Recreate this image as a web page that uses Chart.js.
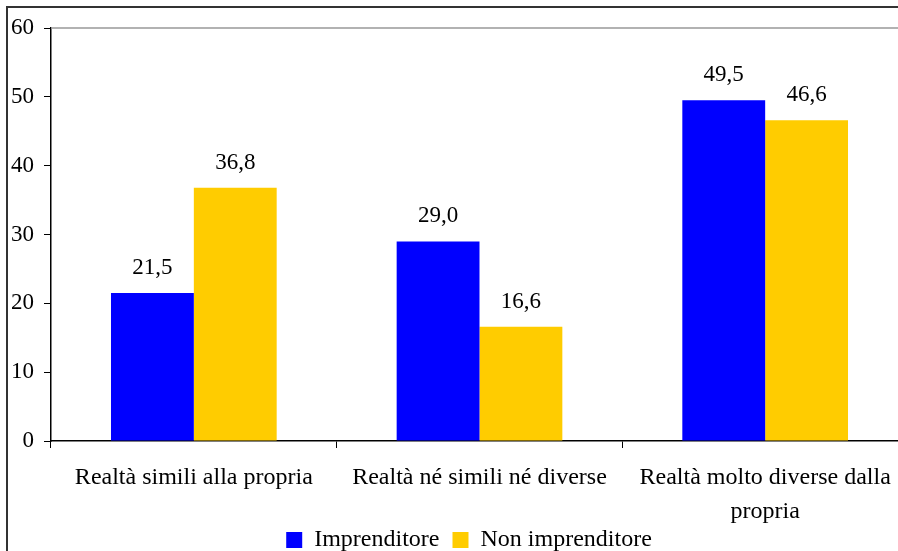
<!DOCTYPE html>
<html>
<head>
<meta charset="utf-8">
<script src="https://cdn.jsdelivr.net/npm/chart.js@4/dist/chart.umd.min.js"></script>
<style>
  html, body { margin: 0; padding: 0; background: #fff; overflow: hidden; }
  #wrap { position: relative; width: 898px; height: 551px; overflow: hidden; }
  #frame { position: absolute; left: 6px; top: 6px; width: 2000px; height: 2000px;
           border-left: 2px solid #333; border-top: 2px solid #333; pointer-events: none; }
  #cv { position: absolute; left: 0; top: 0; }
</style>
</head>
<body>
<div id="wrap">
  <canvas id="cv" width="938" height="562"></canvas>
  <div id="frame"></div>
</div>
<script>
const categories = [
  'Realtà simili alla propria',
  'Realtà né simili né diverse',
  ['Realtà molto diverse dalla', 'propria']
];
const seriesNames = ['Imprenditore', 'Non imprenditore'];
const imprenditore = [21.5, 29.0, 49.5];
const nonImprenditore = [36.8, 16.6, 46.6];
const yTicks = [0, 10, 20, 30, 40, 50, 60];

const FONT = 'Liberation Serif, "Times New Roman", serif';

const barLabels = {
  id: 'barLabels',
  afterDatasetsDraw(chart) {
    const ctx = chart.ctx;
    ctx.save();
    ctx.font = '23px ' + FONT;
    ctx.fillStyle = '#000';
    ctx.textAlign = 'center';
    ctx.textBaseline = 'middle';
    chart.data.datasets.forEach((ds, i) => {
      const meta = chart.getDatasetMeta(i);
      meta.data.forEach((bar, j) => {
        const v = ds.data[j];
        ctx.fillText(v.toFixed(1).replace('.', ','), bar.x, bar.y - 25);
      });
    });
    ctx.restore();
  }
};

const topLine = {
  id: 'topLine',
  afterDraw(chart) {
    const a = chart.chartArea;
    const ctx = chart.ctx;
    ctx.save();
    ctx.strokeStyle = '#999';
    ctx.lineWidth = 1.5;
    ctx.beginPath();
    ctx.moveTo(a.left, a.top);
    ctx.lineTo(a.right + 40, a.top);
    ctx.stroke();
    ctx.restore();
  }
};

const legendShift = {
  id: 'legendShift',
  afterLayout(chart) {
    if (chart.legend) {
      chart.legend.left += 15;
      chart.legend.right += 15;
    }
  }
};

new Chart(document.getElementById('cv'), {
  type: 'bar',
  data: {
    labels: categories,
    datasets: [
      { label: seriesNames[0], data: imprenditore, backgroundColor: '#0000FF', borderWidth: 0 },
      { label: seriesNames[1], data: nonImprenditore, backgroundColor: '#FFCC00', borderWidth: 0 }
    ]
  },
  options: {
    responsive: false,
    animation: false,
    devicePixelRatio: 1,
    layout: { padding: { left: 0, top: 28, right: 30, bottom: 0 } },
    datasets: { bar: { categoryPercentage: 0.58, barPercentage: 1.0 } },
    plugins: {
      legend: {
        position: 'bottom',
        labels: {
          font: { family: FONT, size: 24 },
          color: '#000',
          boxWidth: 16,
          boxHeight: 16,
          padding: 13
        }
      },
      tooltip: { enabled: false }
    },
    scales: {
      x: {
        grid: { offset: true, drawOnChartArea: false, drawTicks: true, tickLength: 7, color: '#000', lineWidth: 1 },
        border: { display: true, color: '#000', width: 1.5 },
        ticks: { font: { family: FONT, size: 24, lineHeight: 1.42 }, color: '#000', padding: 13, maxRotation: 0, autoSkip: false },
        afterFit(scale) {
          scale.height = 74;
          scale._computeLabelArea = function () { return undefined; };
        }
      },
      y: {
        min: 0, max: 60,
        afterBuildTicks(scale) { scale.ticks = yTicks.map(v => ({ value: v })); },
        grid: { drawOnChartArea: false, drawTicks: true, tickLength: 7, color: '#000', lineWidth: 1 },
        border: { display: true, color: '#000', width: 1.5 },
        ticks: { font: { family: FONT, size: 23 }, color: '#000', padding: 10 },
        afterFit(scale) { scale.width = 51; }
      }
    }
  },
  plugins: [barLabels, topLine, legendShift]
});
</script>
</body>
</html>
